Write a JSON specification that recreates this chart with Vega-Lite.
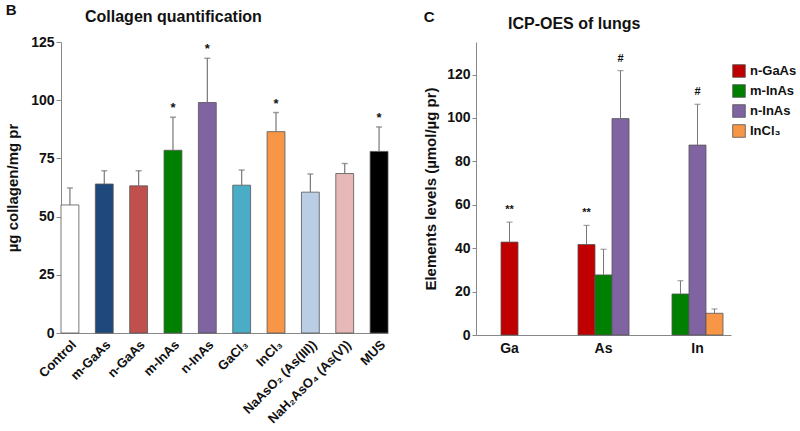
{
  "$schema": "https://vega.github.io/schema/vega-lite/v6.json",
  "background": "white",
  "padding": {"left": 5, "top": 3, "right": 0, "bottom": 0},
  "config": {
    "font": "Liberation Sans",
    "view": {"stroke": null},
    "axis": {"grid": false, "domainColor": "#888", "tickColor": "#888", "labelColor": "#111", "labelFontWeight": "bold", "titleFontWeight": "bold", "titleColor": "#111", "titleFontSize": 15, "labelFontSize": 14},
    "title": {"fontWeight": "bold", "color": "#111"},
    "concat": {"spacing": 34}
  },
  "resolve": {"scale": {"color": "independent"}, "legend": {"color": "independent"}},
  "hconcat": [
    {
      "title": {"text": "B", "anchor": "start", "fontSize": 15, "offset": -9},
      "vconcat": [
        {
          "width": 327,
          "height": 291,
          "title": {"text": "Collagen quantification", "anchor": "start", "frame": "group", "dx": 24, "fontSize": 16, "offset": 10},
          "data": {"values": [
            {"group": "Control", "value": 55, "hi": 62.3, "star": ""},
            {"group": "m-GaAs", "value": 64, "hi": 69.7, "star": ""},
            {"group": "n-GaAs", "value": 63.2, "hi": 69.7, "star": ""},
            {"group": "m-InAs", "value": 78.5, "hi": 92.7, "star": "*"},
            {"group": "n-InAs", "value": 99, "hi": 118, "star": "*"},
            {"group": "GaCl₃", "value": 63.5, "hi": 70, "star": ""},
            {"group": "InCl₃", "value": 86.5, "hi": 94.7, "star": "*"},
            {"group": "NaAsO₂ (As(III))", "value": 60.5, "hi": 68.3, "star": ""},
            {"group": "NaH₂AsO₄ (As(V))", "value": 68.5, "hi": 72.8, "star": ""},
            {"group": "MUS", "value": 78, "hi": 88.5, "star": "*"}
          ]},
          "encoding": {
            "x": {"field": "group", "type": "nominal", "sort": null, "title": null,
                  "scale": {"paddingInner": 0.48, "paddingOuter": 0},
                  "axis": {"labelAngle": -45, "labelFontSize": 13, "ticks": false, "labelPadding": 5}}
          },
          "layer": [
            {"mark": {"type": "bar", "stroke": "#555", "strokeWidth": 0.8},
             "encoding": {
               "y": {"field": "value", "type": "quantitative", "title": "µg collagen/mg pr",
                     "scale": {"domain": [0, 125], "nice": false},
                     "axis": {"values": [0, 25, 50, 75, 100, 125], "tickSize": 5, "titlePadding": 10}},
               "color": {"field": "group", "type": "nominal", "legend": null,
                 "scale": {"domain": ["Control", "m-GaAs", "n-GaAs", "m-InAs", "n-InAs", "GaCl₃", "InCl₃", "NaAsO₂ (As(III))", "NaH₂AsO₄ (As(V))", "MUS"],
                           "range": ["#ffffff", "#1f497d", "#c0504d", "#008000", "#8064a2", "#4bacc6", "#f79646", "#b9cde5", "#e6b9b8", "#000000"]}}
             }},
            {"mark": {"type": "rule", "color": "#777", "strokeWidth": 1.2},
             "encoding": {"y": {"field": "value", "type": "quantitative", "title": "µg collagen/mg pr"}, "y2": {"field": "hi"}}},
            {"mark": {"type": "tick", "color": "#777", "size": 6, "thickness": 1.5},
             "encoding": {"y": {"field": "hi", "type": "quantitative", "title": "µg collagen/mg pr"}}},
            {"mark": {"type": "text", "dy": -9, "fontSize": 13, "fontWeight": "bold", "color": "#111"},
             "encoding": {"y": {"field": "hi", "type": "quantitative", "title": "µg collagen/mg pr"}, "text": {"field": "star"}}}
          ]
        }
      ]
    },
    {
      "title": {"text": "C", "anchor": "start", "fontSize": 15, "offset": -9},
      "vconcat": [
        {
          "width": 274,
          "height": 293,
          "title": {"text": "ICP-OES of lungs", "anchor": "start", "frame": "group", "dx": 32, "fontSize": 16, "offset": 10},
          "data": {"values": [
            {"element": "Ga", "series": "n-GaAs", "value": 42.8, "hi": 52, "sig": "**"},
            {"element": "As", "series": "n-GaAs", "value": 41.7, "hi": 50.5, "sig": "**"},
            {"element": "As", "series": "m-InAs", "value": 27.7, "hi": 39.5, "sig": ""},
            {"element": "As", "series": "n-InAs", "value": 99.7, "hi": 121.8, "sig": "#"},
            {"element": "In", "series": "m-InAs", "value": 18.9, "hi": 25, "sig": ""},
            {"element": "In", "series": "n-InAs", "value": 87.5, "hi": 106.3, "sig": "#"},
            {"element": "In", "series": "InCl₃", "value": 10, "hi": 12, "sig": ""}
          ]},
          "encoding": {
            "x": {"field": "element", "type": "nominal", "sort": ["Ga", "As", "In"], "title": null,
                  "scale": {"range": [0, 255], "paddingInner": 0.457, "paddingOuter": 0.085},
                  "axis": {"labelAngle": 0, "ticks": false, "labelFontSize": 14, "labelPadding": 6}}
          },
          "layer": [
            {
              "transform": [{"filter": "datum.element === 'Ga'"}],
              "layer": [
                {"mark": {"type": "bar", "stroke": "#555", "strokeWidth": 0.8, "width": {"band": 0.3333}},
                 "encoding": {"y": {"field": "value", "type": "quantitative", "title": "Elements levels (µmol/µg pr)",
                   "scale": {"domain": [0, 135], "nice": false},
                   "axis": {"values": [0, 10, 20, 30, 40, 50, 60, 70, 80, 90, 100, 110, 120, 130], "labelExpr": "datum.value % 20 === 0 ? datum.label : ''", "tickSize": 4, "titlePadding": 8}},
                   "color": {"field": "series", "type": "nominal", "title": null,
                     "scale": {"domain": ["n-GaAs", "m-InAs", "n-InAs", "InCl₃"], "range": ["#c00000", "#008000", "#8064a2", "#f79646"]},
                     "legend": {"orient": "none", "legendX": 256, "legendY": 22, "symbolType": "square", "symbolSize": 160, "symbolStrokeColor": "#555", "symbolStrokeWidth": 0.8, "labelFontSize": 13, "labelFontWeight": "bold", "labelColor": "#111", "labelOffset": 4, "rowPadding": 4, "symbolOpacity": 1}}}},
                {"mark": {"type": "rule", "color": "#777", "strokeWidth": 1},
                 "encoding": {"y": {"field": "value", "type": "quantitative", "title": "Elements levels (µmol/µg pr)"}, "y2": {"field": "hi"}}},
                {"mark": {"type": "tick", "color": "#777", "size": 6, "thickness": 1.2},
                 "encoding": {"y": {"field": "hi", "type": "quantitative", "title": "Elements levels (µmol/µg pr)"}}},
                {"mark": {"type": "text", "dy": -12, "fontSize": 11, "fontWeight": "bold", "color": "#111"},
                 "encoding": {"y": {"field": "hi", "type": "quantitative", "title": "Elements levels (µmol/µg pr)"}, "text": {"field": "sig"}}}
              ]
            },
            {
              "transform": [{"filter": "datum.element === 'As'"}],
              "encoding": {"xOffset": {"field": "series", "type": "nominal", "scale": {"domain": ["n-GaAs", "m-InAs", "n-InAs"], "paddingInner": 0, "paddingOuter": 0}}},
              "layer": [
                {"mark": {"type": "bar", "stroke": "#555", "strokeWidth": 0.8},
                 "encoding": {"y": {"field": "value", "type": "quantitative", "title": "Elements levels (µmol/µg pr)"},
                   "color": {"field": "series", "type": "nominal", "title": null}}},
                {"mark": {"type": "rule", "color": "#777", "strokeWidth": 1},
                 "encoding": {"y": {"field": "value", "type": "quantitative", "title": "Elements levels (µmol/µg pr)"}, "y2": {"field": "hi"}}},
                {"mark": {"type": "tick", "color": "#777", "size": 6, "thickness": 1.2},
                 "encoding": {"y": {"field": "hi", "type": "quantitative", "title": "Elements levels (µmol/µg pr)"}}},
                {"mark": {"type": "text", "dy": -12, "fontSize": 11, "fontWeight": "bold", "color": "#111"},
                 "encoding": {"y": {"field": "hi", "type": "quantitative", "title": "Elements levels (µmol/µg pr)"}, "text": {"field": "sig"}}}
              ]
            },
            {
              "transform": [{"filter": "datum.element === 'In'"}],
              "encoding": {"xOffset": {"field": "series", "type": "nominal", "scale": {"domain": ["m-InAs", "n-InAs", "InCl₃"], "paddingInner": 0, "paddingOuter": 0}}},
              "layer": [
                {"mark": {"type": "bar", "stroke": "#555", "strokeWidth": 0.8},
                 "encoding": {"y": {"field": "value", "type": "quantitative", "title": "Elements levels (µmol/µg pr)"},
                   "color": {"field": "series", "type": "nominal", "title": null}}},
                {"mark": {"type": "rule", "color": "#777", "strokeWidth": 1},
                 "encoding": {"y": {"field": "value", "type": "quantitative", "title": "Elements levels (µmol/µg pr)"}, "y2": {"field": "hi"}}},
                {"mark": {"type": "tick", "color": "#777", "size": 6, "thickness": 1.2},
                 "encoding": {"y": {"field": "hi", "type": "quantitative", "title": "Elements levels (µmol/µg pr)"}}},
                {"mark": {"type": "text", "dy": -12, "fontSize": 11, "fontWeight": "bold", "color": "#111"},
                 "encoding": {"y": {"field": "hi", "type": "quantitative", "title": "Elements levels (µmol/µg pr)"}, "text": {"field": "sig"}}}
              ]
            }
          ],
          "resolve": {"scale": {"xOffset": "independent"}}
        }
      ]
    }
  ]
}
